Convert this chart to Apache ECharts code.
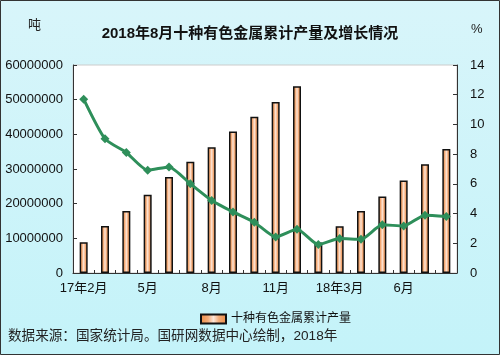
<!DOCTYPE html>
<html>
<head>
<meta charset="utf-8">
<style>html,body{margin:0;padding:0;}#c{width:500px;height:355px;}</style>
<script src="https://cdn.jsdelivr.net/npm/echarts@6/dist/echarts.min.js"></script>
</head>
<body>
<div id="c"></div>
<script>
var categories = ['17年2月','3月','4月','5月','6月','7月','8月','9月','10月','11月','12月','18年2月','18年3月','4月','5月','6月','7月','8月'];
var output = [8900000,13560000,17900000,22600000,27700000,32100000,36300000,40800000,45100000,49300000,53900000,8800000,13500000,17900000,22100000,26700000,31400000,35800000];
var growth = [11.7,9.03,8.11,6.92,7.14,6.0,4.88,4.11,3.42,2.43,2.94,1.91,2.32,2.27,3.24,3.17,3.89,3.8];
var leftTicks = [0,10000000,20000000,30000000,40000000,50000000,60000000];
var rightTicks = [0,2,4,6,8,10,12,14];
var shownLabels = {0:'17年2月',3:'5月',6:'8月',9:'11月',12:'18年3月',15:'6月'};

var chart = echarts.init(document.getElementById('c'));
var font = '"Liberation Sans","Noto Sans CJK SC",sans-serif';
function barGrad(){
  return new echarts.graphic.LinearGradient(0,0,1,0,[
    {offset:0,color:'#ec8a42'},{offset:0.3,color:'#f3ab78'},{offset:0.5,color:'#fde6d8'},{offset:0.7,color:'#f3ab78'},{offset:1,color:'#ec8a42'}]);
}
chart.setOption({
  backgroundColor: new echarts.graphic.LinearGradient(0,0,0,1,[
    {offset:0,color:'#d8f5fa'},{offset:1,color:'#c4f3f9'}]),
  animation:false,
  textStyle:{fontFamily:font},
  title:{text:'2018年8月十种有色金属累计产量及增长情况',left:'center',top:21,
    textStyle:{fontSize:15,fontWeight:'bold',color:'#111',fontFamily:font}},
  graphic:[
    {type:'text',left:28,top:19,style:{text:'吨',fontSize:13,fill:'#222',fontFamily:font}},
    {type:'text',left:471,top:23,style:{text:'%',fontSize:13,fill:'#222',fontFamily:font}},
    {type:'text',left:8,top:329,style:{text:'数据来源：国家统计局。国研网数据中心绘制，2018年',fontSize:13.6,fill:'#222',fontFamily:font}},
    {type:'rect',shape:{x:0.5,y:0.5,width:499,height:354},style:{fill:'none',stroke:'#333',lineWidth:1},z:100}
  ],
  legend:{data:[{name:'十种有色金属累计产量',icon:'rect'}],left:195,top:308,itemWidth:25,itemHeight:9,itemGap:4,
    textStyle:{fontSize:12,color:'#111',fontFamily:font}},
  grid:{left:73,right:43,top:65,bottom:82,show:true,backgroundColor:'#fff',borderColor:'#ccc',borderWidth:1},
  xAxis:{type:'category',data:categories,
    axisLine:{lineStyle:{color:'#333',width:1}},
    axisTick:{show:true,inside:true,length:3,alignWithLabel:false,lineStyle:{color:'#333'}},
    axisLabel:{interval:0,fontSize:13,color:'#111',margin:9,fontFamily:font,
      formatter:function(v,i){return shownLabels[i]!==undefined?shownLabels[i]:'';}}
  },
  yAxis:[
    {type:'value',min:leftTicks[0],max:leftTicks[leftTicks.length-1],interval:10000000,
     axisLine:{show:true,lineStyle:{color:'#333'}},
     axisTick:{show:true,inside:true,length:4,lineStyle:{color:'#333'}},
     splitLine:{show:false},
     axisLabel:{fontSize:13,color:'#111',margin:10,fontFamily:font,formatter:function(v){return String(v);}}},
    {type:'value',min:rightTicks[0],max:rightTicks[rightTicks.length-1],interval:2,position:'right',
     axisLine:{show:true,lineStyle:{color:'#333'}},
     axisTick:{show:true,inside:true,length:4,lineStyle:{color:'#333'}},
     splitLine:{show:false},
     axisLabel:{fontSize:13,color:'#111',margin:13,fontFamily:font}}
  ],
  series:[
    {name:'十种有色金属累计产量',type:'bar',data:output,barWidth:8,
     itemStyle:{color:barGrad(),borderColor:'#111',borderWidth:1.5}},
    {name:'增长',type:'line',yAxisIndex:1,data:growth,smooth:0.2,
     symbol:'diamond',symbolSize:9,
     lineStyle:{color:'#2e8f5a',width:3},itemStyle:{color:'#2e8f5a'},z:5}
  ]
});
</script>
</body>
</html>
